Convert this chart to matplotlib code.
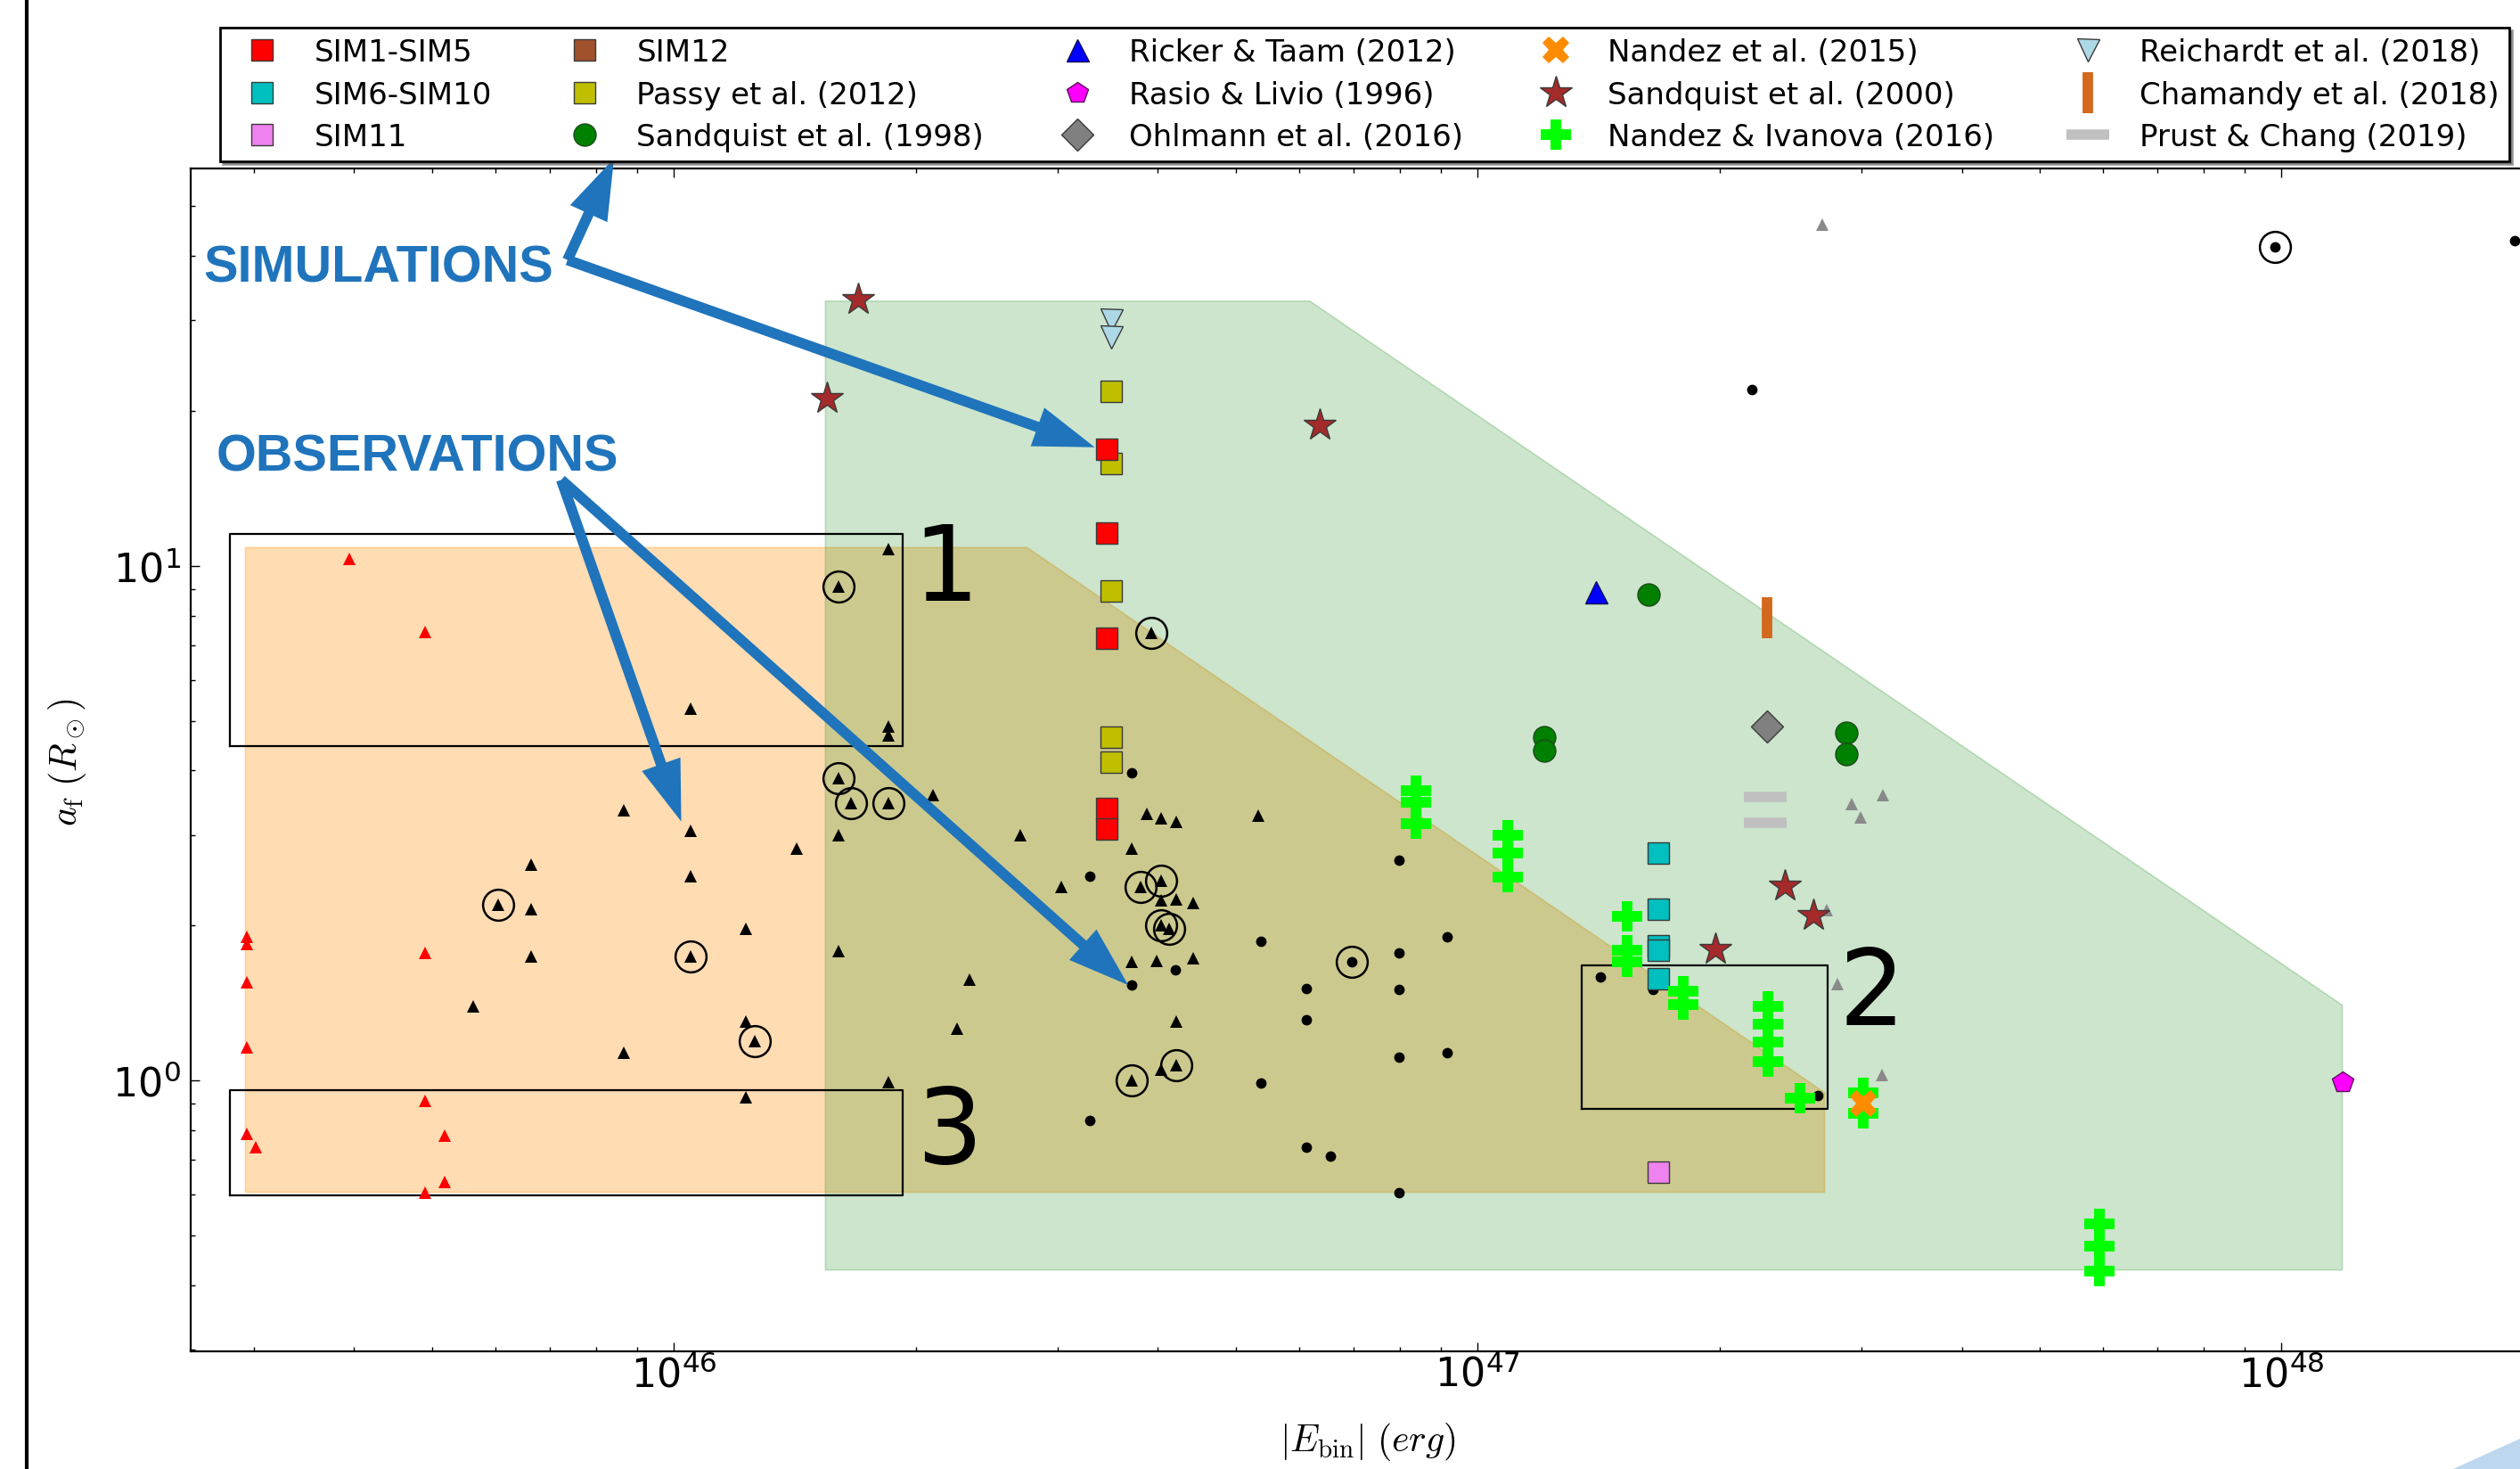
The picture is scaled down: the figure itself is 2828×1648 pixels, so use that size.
import matplotlib
matplotlib.use('Agg')
import matplotlib.pyplot as plt
from matplotlib.lines import Line2D
from matplotlib.patches import Polygon
from matplotlib.ticker import NullFormatter

plt.rcParams['font.family'] = ['DejaVu Sans']
plt.rcParams['mathtext.fontset'] = 'cm'

# ---------------- data ----------------
# observational samples
obs_red_tri_x = [2.94e45, 2.94e45, 2.94e45, 2.94e45, 2.94e45, 3.02e45, 3.95e45,
                 4.90e45, 4.90e45, 4.90e45, 4.90e45, 5.19e45, 5.19e45]
obs_red_tri_y = [1.90, 1.84, 1.55, 1.16, 0.786, 0.741, 10.3,
                 7.43, 1.77, 0.912, 0.606, 0.782, 0.634]

obs_tri_x = [1.85e46, 1.05e46, 1.85e46, 1.85e46, 2.10e46, 8.66e45, 1.05e46, 1.60e46, 1.42e46, 6.64e45,
             1.05e46, 6.64e45, 1.23e46, 1.60e46, 6.64e45, 2.33e46, 5.63e45, 2.25e46, 1.23e46, 8.66e45,
             1.85e46, 1.23e46,
             2.70e46, 3.87e46, 4.04e46, 4.21e46, 5.33e46, 3.71e46, 3.03e46, 4.04e46, 4.21e46, 4.42e46,
             3.71e46, 3.98e46, 4.42e46, 4.21e46, 4.04e46]
obs_tri_y = [10.76, 5.27, 4.88, 4.69, 3.59, 3.35, 3.06, 3.00, 2.82, 2.63,
             2.49, 2.15, 1.97, 1.78, 1.74, 1.57, 1.39, 1.26, 1.30, 1.13,
             0.994, 0.928,
             3.00, 3.29, 3.23, 3.18, 3.27, 2.82, 2.38, 2.24, 2.25, 2.21,
             1.70, 1.71, 1.73, 1.30, 1.05]

circ_tri_x = [1.60e46, 1.60e46, 1.66e46, 1.85e46, 6.04e45, 1.05e46, 1.26e46,
              3.81e46, 4.04e46, 4.04e46, 4.13e46, 4.21e46, 3.71e46, 3.92e46]
circ_tri_y = [9.13, 3.87, 3.46, 3.46, 2.19, 1.74, 1.19,
              2.38, 2.44, 2.00, 1.97, 1.07, 1.00, 7.41]

obs_dot_x = [3.71e46, 3.29e46, 4.20e46, 3.71e46, 5.37e46, 7.97e46, 7.97e46, 9.17e46, 6.12e46, 7.97e46,
             6.12e46, 5.37e46, 7.97e46, 9.17e46, 3.29e46, 6.12e46, 6.55e46, 7.97e46, 1.42e47, 1.65e47,
             2.65e47, 2.19e47, 1.95e48]
obs_dot_y = [3.96, 2.49, 1.64, 1.53, 1.86, 2.68, 1.77, 1.90, 1.51, 1.50,
             1.31, 0.987, 1.11, 1.13, 0.836, 0.742, 0.712, 0.606, 1.59, 1.50,
             0.934, 22.0, 42.9]
circ_dot_x = [6.97e46, 9.80e47]
circ_dot_y = [1.70, 41.7]

grey_tri_x = [2.92e47, 3.19e47, 2.99e47, 2.72e47, 2.80e47, 3.18e47, 2.68e47]
grey_tri_y = [3.45, 3.59, 3.25, 2.14, 1.54, 1.025, 46.1]

# simulations
sim1_5_x = [3.45e46, 3.45e46, 3.45e46, 3.45e46, 3.45e46]
sim1_5_y = [16.85, 11.57, 7.24, 3.38, 3.08]
sim6_10_x = [1.676e47, 1.676e47, 1.676e47, 1.676e47, 1.676e47]
sim6_10_y = [2.77, 2.15, 1.83, 1.79, 1.578]
sim11_x = [1.675e47]
sim11_y = [0.663]
sim12_x = []
sim12_y = []
passy_x = [3.50e46, 3.50e46, 3.50e46, 3.50e46, 3.50e46]
passy_y = [21.8, 15.78, 8.92, 4.64, 4.15]
sandquist98_x = [1.632e47, 1.209e47, 1.209e47, 2.873e47, 2.873e47]
sandquist98_y = [8.80, 4.65, 4.37, 4.74, 4.31]
ricker_x = [1.404e47]
ricker_y = [8.90]
rasio_x = [1.191e48]
rasio_y = [0.994]
ohlmann_x = [2.29e47]
ohlmann_y = [4.87]
nandez15_x = [3.017e47]
nandez15_y = [0.903]
sandquist00_x = [1.696e46, 1.548e46, 6.365e46, 2.41e47, 2.616e47, 1.977e47]
sandquist00_y = [32.9, 21.15, 18.8, 2.39, 2.09, 1.796]
nandez_iv_x = [8.37e46, 8.37e46, 8.37e46, 1.090e47, 1.090e47, 1.090e47,
               1.533e47, 1.533e47, 1.533e47, 1.803e47, 1.803e47,
               2.297e47, 2.297e47, 2.297e47, 2.297e47, 2.518e47,
               3.017e47, 3.017e47, 5.935e47, 5.935e47, 5.935e47]
nandez_iv_y = [3.65, 3.47, 3.16, 2.99, 2.77, 2.48,
               2.086, 1.79, 1.70, 1.489, 1.401,
               1.392, 1.286, 1.187, 1.089, 0.925,
               0.947, 0.862, 0.527, 0.476, 0.426]
reichardt_x = [3.50e46, 3.50e46]
reichardt_y = [30.05, 27.85]
chamandy_x = [2.288e47]
chamandy_y = [7.94]
prust_x = [2.28e47, 2.28e47]
prust_y = [3.56, 3.165]

# shaded regions
obs_region_x = [2.93e45, 2.93e45, 2.75e46, 2.70e47, 2.70e47]
obs_region_y = [0.606, 10.85, 10.85, 0.947, 0.606]
sim_region_x = [1.543e46, 1.543e46, 6.18e46, 1.19e48, 1.19e48]
sim_region_y = [0.428, 32.7, 32.7, 1.40, 0.428]

# boxes (x0, x1, y0, y1) and labels
box_labels = ['1', '2', '3']
box_x0 = [2.805e45, 1.348e47, 2.805e45]
box_x1 = [1.927e46, 2.725e47, 1.927e46]
box_y0 = [4.47, 0.880, 0.598]
box_y1 = [11.55, 1.676, 0.958]
box_label_x = [2.18e46, 3.09e47, 2.20e46]
box_label_y = [8.60, 1.285, 0.693]

legend_labels = ['SIM1-SIM5', 'SIM6-SIM10', 'SIM11',
                 'SIM12', 'Passy et al. (2012)', 'Sandquist et al. (1998)',
                 'Ricker & Taam (2012)', 'Rasio & Livio (1996)', 'Ohlmann et al. (2016)',
                 'Nandez et al. (2015)', 'Sandquist et al. (2000)', 'Nandez & Ivanova (2016)',
                 'Reichardt et al. (2018)', 'Chamandy et al. (2018)', 'Prust & Chang (2019)']

# ---------------- figure ----------------
W, H = 2828, 1649
fig = plt.figure(figsize=(W / 100, H / 100), dpi=100)
ax = fig.add_axes([0.0757, 0.0802, 0.9743, 0.8046])
ax.set_xscale('log')
ax.set_yscale('log')
ax.set_xlim(2.505e45, 2.84e48)
ax.set_ylim(0.2977, 59.2)

ax.fill(obs_region_x, obs_region_y, facecolor='darkorange', alpha=0.3,
        edgecolor='darkorange', lw=1.2, zorder=1)
ax.fill(sim_region_x, sim_region_y, facecolor='green', alpha=0.2,
        edgecolor='green', lw=1.2, zorder=2)

for x0, x1, y0, y1 in zip(box_x0, box_x1, box_y0, box_y1):
    ax.plot([x0, x1, x1, x0, x0], [y0, y0, y1, y1, y0], color='k', lw=1.6, zorder=3)
for lab, lx, ly in zip(box_labels, box_label_x, box_label_y):
    ax.text(lx, ly, lab, fontsize=84, ha='center', va='baseline', zorder=3)

# observations
ax.plot(obs_red_tri_x, obs_red_tri_y, ls='none', marker='^', ms=9.5, color='red', mew=0, zorder=4)
ax.plot(obs_tri_x, obs_tri_y, ls='none', marker='^', ms=9.5, color='k', mew=0, zorder=4)
ax.plot(circ_tri_x, circ_tri_y, ls='none', marker='^', ms=9.5, color='k', mew=0, zorder=4)
ax.plot(circ_tri_x, circ_tri_y, ls='none', marker='o', ms=25, mfc='none', mec='k', mew=1.8, zorder=4)
ax.plot(obs_dot_x, obs_dot_y, ls='none', marker='o', ms=8.5, color='k', mew=0, zorder=4)
ax.plot(circ_dot_x, circ_dot_y, ls='none', marker='o', ms=8.5, color='k', mew=0, zorder=4)
ax.plot(circ_dot_x, circ_dot_y, ls='none', marker='o', ms=25, mfc='none', mec='k', mew=1.8, zorder=4)
ax.plot(grey_tri_x, grey_tri_y, ls='none', marker='^', ms=9.5, color='#8a8a8a', mew=0, zorder=4)

# simulations
ec = '#3a3a3a'
h = {}
h['passy'] = ax.plot(passy_x, passy_y, ls='none', marker='s', ms=17, mfc='#bfbf00', mec=ec, mew=1.0, zorder=5)[0]
h['sim15'] = ax.plot(sim1_5_x, sim1_5_y, ls='none', marker='s', ms=17, mfc='red', mec=ec, mew=1.0, zorder=5)[0]
h['sim610'] = ax.plot(sim6_10_x, sim6_10_y, ls='none', marker='s', ms=17, mfc='#00bfbf', mec=ec, mew=1.0, zorder=5)[0]
h['sim11'] = ax.plot(sim11_x, sim11_y, ls='none', marker='s', ms=17, mfc='violet', mec=ec, mew=1.0, zorder=5)[0]
h['sim12'] = ax.plot(sim12_x, sim12_y, ls='none', marker='s', ms=17, mfc='sienna', mec=ec, mew=1.0, zorder=5)[0]
h['sq98'] = ax.plot(sandquist98_x, sandquist98_y, ls='none', marker='o', ms=18, mfc='green', mec='#1a4a1a', mew=1.0, zorder=5)[0]
h['ricker'] = ax.plot(ricker_x, ricker_y, ls='none', marker='^', ms=18, mfc='blue', mec='#10105a', mew=1.0, zorder=5)[0]
h['rasio'] = ax.plot(rasio_x, rasio_y, ls='none', marker='p', ms=18, mfc='magenta', mec='#5a105a', mew=1.0, zorder=5)[0]
h['ohlmann'] = ax.plot(ohlmann_x, ohlmann_y, ls='none', marker='D', ms=18, mfc='gray', mec=ec, mew=1.0, zorder=5)[0]
h['sq00'] = ax.plot(sandquist00_x, sandquist00_y, ls='none', marker='*', ms=27, mfc='#a52a2a', mec=ec, mew=1.0, zorder=5)[0]
h['ni'] = ax.plot(nandez_iv_x, nandez_iv_y, ls='none', marker='P', ms=24, color='lime', mew=0, zorder=5)[0]
h['n15'] = ax.plot(nandez15_x, nandez15_y, ls='none', marker='X', ms=22, color='darkorange', mew=0, zorder=5)[0]
h['reich'] = ax.plot(reichardt_x, reichardt_y, ls='none', marker='v', ms=18, mfc='lightblue', mec=ec, mew=1.0, zorder=5)[0]
h['cham'] = ax.plot(chamandy_x, chamandy_y, ls='none', marker='|', ms=33, color='chocolate', mew=8.5, zorder=5)[0]
h['prust'] = ax.plot(prust_x, prust_y, ls='none', marker='_', ms=34, color='silver', mew=8.3, zorder=5)[0]

handles = [h['sim15'], h['sim610'], h['sim11'],
           h['sim12'], h['passy'], h['sq98'],
           h['ricker'], h['rasio'], h['ohlmann'],
           h['n15'], h['sq00'], h['ni'],
           h['reich'], h['cham'], h['prust']]

leg = fig.legend(handles, legend_labels, loc='lower left',
                 bbox_to_anchor=(0.0873, 0.8896, 0.9085, 0.0946), mode='expand',
                 ncol=5, fontsize=24.5, frameon=True, fancybox=False, shadow=True,
                 framealpha=1, edgecolor='k', borderpad=0.33, labelspacing=0.42,
                 handlelength=2.12, handletextpad=0.65, borderaxespad=0, numpoints=1)
leg.get_frame().set_linewidth(2.0)

# annotations
blue = '#1f74bc'
arrow_style = 'simple,head_length=49,head_width=33,tail_width=8.5'
ann_text = ['SIMULATIONS', 'OBSERVATIONS']
ann_text_x = [4.285e45, 4.80e45]
ann_text_y = [35.67, 15.36]
ann_origin_x = [7.37e45, 7.24e45]
ann_origin_y = [39.3, 14.69]
ann_tips_x = [[8.42e45, 3.337e46], [1.021e46, 3.673e46]]
ann_tips_y = [[61.9, 17.0], [3.185, 1.532]]
for t, tx, ty, ox, oy, txs, tys in zip(ann_text, ann_text_x, ann_text_y, ann_origin_x,
                                       ann_origin_y, ann_tips_x, ann_tips_y):
    ax.text(tx, ty, t, color=blue, fontsize=41.5, fontweight='bold', family='Liberation Sans',
            ha='center', va='baseline', zorder=7)
    for px, py in zip(txs, tys):
        ax.annotate('', xy=(px, py), xytext=(ox, oy), xycoords='data', textcoords='data',
                    arrowprops=dict(arrowstyle=arrow_style, mutation_scale=1, color=blue,
                                    shrinkA=0, shrinkB=0, lw=0),
                    annotation_clip=False, zorder=7)

# axes styling
for s in ax.spines.values():
    s.set_linewidth(1.6)
ax.tick_params(which='both', direction='in', top=True, right=True)
ax.tick_params(which='major', length=7.2, width=1.0, labelsize=32)
ax.tick_params(which='minor', length=3.6, width=1.0)
ax.tick_params(axis='x', which='major', pad=3)
ax.tick_params(axis='y', which='major', pad=8)
ax.xaxis.set_minor_formatter(NullFormatter())
ax.yaxis.set_minor_formatter(NullFormatter())

ax.set_xlabel(r'$|E_{\rm bin}|\ (erg)$', fontsize=30)
ax.set_ylabel(r'$a_{\rm f}\ (R_\odot)$', fontsize=30)
ax.xaxis.set_label_coords(0.4794, -0.0585)
ax.yaxis.set_label_coords(-0.0418, 0.4988)

# slide decorations
fig.add_artist(Line2D([30 / W, 30 / W], [0, 1], transform=fig.transFigure, color='k', lw=3))
fig.add_artist(Polygon([[2753 / W, 0], [1, 34 / H], [1, 0]], closed=True,
                       transform=fig.transFigure, facecolor='#bdd7ee', edgecolor='none'))

fig.savefig('out.png', dpi=100)
